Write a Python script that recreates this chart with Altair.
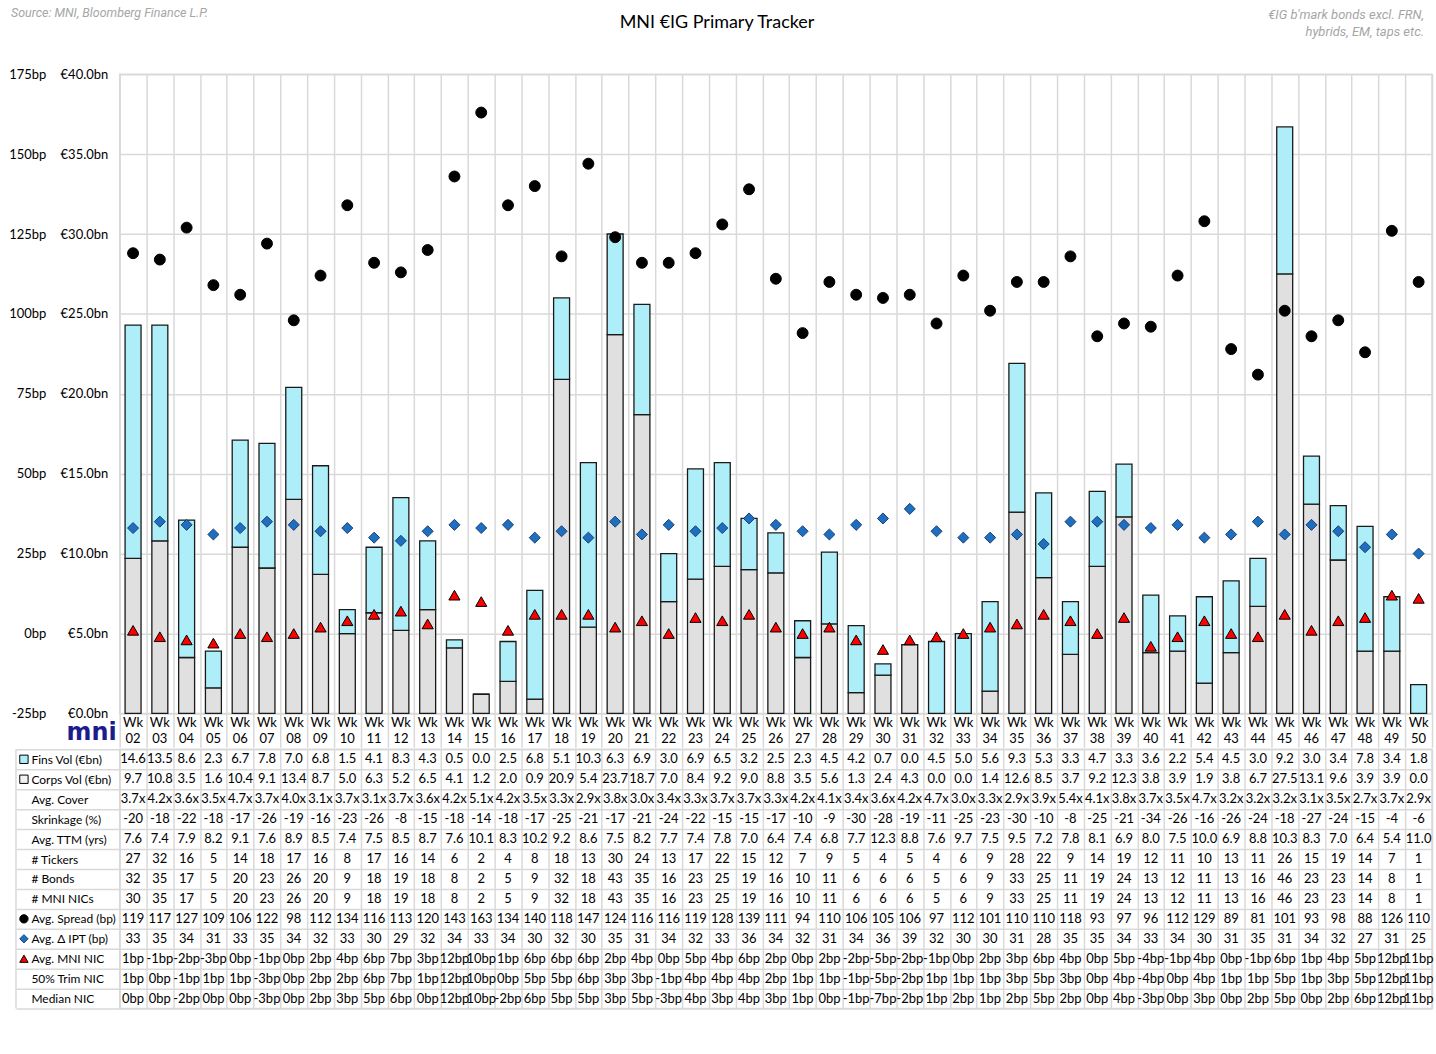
import altair as alt
import pandas as pd

FONT = "Lato"
GRID = "#D9D9D9"
CYAN = "#AEEEF8"
LIGHT_GREY = "#E0E0E0"

weeks = ["02", "03", "04", "05", "06", "07", "08", "09", "10", "11", "12", "13", "14",
         "15", "16", "17", "18", "19", "20", "21", "22", "23", "24", "25", "26", "27",
         "28", "29", "30", "31", "32", "33", "34", "35", "36", "37", "38", "39", "40",
         "41", "42", "43", "44", "45", "46", "47", "48", "49", "50"]

fins_vol = [14.6, 13.5, 8.6, 2.3, 6.7, 7.8, 7.0, 6.8, 1.5, 4.1, 8.3, 4.3, 0.5, 0.0, 2.5,
            6.8, 5.1, 10.3, 6.3, 6.9, 3.0, 6.9, 6.5, 3.2, 2.5, 2.3, 4.5, 4.2, 0.7, 0.0,
            4.5, 5.0, 5.6, 9.3, 5.3, 3.3, 4.7, 3.3, 3.6, 2.2, 5.4, 4.5, 3.0, 9.2, 3.0,
            3.4, 7.8, 3.4, 1.8]
corps_vol = [9.7, 10.8, 3.5, 1.6, 10.4, 9.1, 13.4, 8.7, 5.0, 6.3, 5.2, 6.5, 4.1, 1.2, 2.0,
             0.9, 20.9, 5.4, 23.7, 18.7, 7.0, 8.4, 9.2, 9.0, 8.8, 3.5, 5.6, 1.3, 2.4, 4.3,
             0.0, 0.0, 1.4, 12.6, 8.5, 3.7, 9.2, 12.3, 3.8, 3.9, 1.9, 3.8, 6.7, 27.5, 13.1,
             9.6, 3.9, 3.9, 0.0]
avg_cover = [3.7, 4.2, 3.6, 3.5, 4.7, 3.7, 4.0, 3.1, 3.7, 3.1, 3.7, 3.6, 4.2, 5.1, 4.2,
             3.5, 3.3, 2.9, 3.8, 3.0, 3.4, 3.3, 3.7, 3.7, 3.3, 4.2, 4.1, 3.4, 3.6, 4.2,
             4.7, 3.0, 3.3, 2.9, 3.9, 5.4, 4.1, 3.8, 3.7, 3.5, 4.7, 3.2, 3.2, 3.2, 3.1,
             3.5, 2.7, 3.7, 2.9]
shrinkage = [-20, -18, -22, -18, -17, -26, -19, -16, -23, -26, -8, -15, -18, -14, -18,
             -17, -25, -21, -17, -21, -24, -22, -15, -15, -17, -10, -9, -30, -28, -19,
             -11, -25, -23, -30, -10, -8, -25, -21, -34, -26, -16, -26, -24, -18, -27,
             -24, -15, -4, -6]
avg_ttm = [7.6, 7.4, 7.9, 8.2, 9.1, 7.6, 8.9, 8.5, 7.4, 7.5, 8.5, 8.7, 7.6, 10.1, 8.3,
           10.2, 9.2, 8.6, 7.5, 8.2, 7.7, 7.4, 7.8, 7.0, 6.4, 7.4, 6.8, 7.7, 12.3, 8.8,
           7.6, 9.7, 7.5, 9.5, 7.2, 7.8, 8.1, 6.9, 8.0, 7.5, 10.0, 6.9, 8.8, 10.3, 8.3,
           7.0, 6.4, 5.4, 11.0]
n_tickers = [27, 32, 16, 5, 14, 18, 17, 16, 8, 17, 16, 14, 6, 2, 4, 8, 18, 13, 30, 24,
             13, 17, 22, 15, 12, 7, 9, 5, 4, 5, 4, 6, 9, 28, 22, 9, 14, 19, 12, 11, 10,
             13, 11, 26, 15, 19, 14, 7, 1]
n_bonds = [32, 35, 17, 5, 20, 23, 26, 20, 9, 18, 19, 18, 8, 2, 5, 9, 32, 18, 43, 35,
           16, 23, 25, 19, 16, 10, 11, 6, 6, 6, 5, 6, 9, 33, 25, 11, 19, 24, 13, 12, 11,
           13, 16, 46, 23, 23, 14, 8, 1]
n_nics = [30, 35, 17, 5, 20, 23, 26, 20, 9, 18, 19, 18, 8, 2, 5, 9, 32, 18, 43, 35,
          16, 23, 25, 19, 16, 10, 11, 6, 6, 6, 5, 6, 9, 33, 25, 11, 19, 24, 13, 12, 11,
          13, 16, 46, 23, 23, 14, 8, 1]
avg_spread = [119, 117, 127, 109, 106, 122, 98, 112, 134, 116, 113, 120, 143, 163, 134,
              140, 118, 147, 124, 116, 116, 119, 128, 139, 111, 94, 110, 106, 105, 106,
              97, 112, 101, 110, 110, 118, 93, 97, 96, 112, 129, 89, 81, 101, 93, 98, 88,
              126, 110]
avg_ipt = [33, 35, 34, 31, 33, 35, 34, 32, 33, 30, 29, 32, 34, 33, 34, 30, 32, 30, 35, 31,
           34, 32, 33, 36, 34, 32, 31, 34, 36, 39, 32, 30, 30, 31, 28, 35, 35, 34, 33, 34,
           30, 31, 35, 31, 34, 32, 27, 31, 25]
avg_nic = [1, -1, -2, -3, 0, -1, 0, 2, 4, 6, 7, 3, 12, 10, 1, 6, 6, 6, 2, 4, 0, 5, 4, 6,
           2, 0, 2, -2, -5, -2, -1, 0, 2, 3, 6, 4, 0, 5, -4, -1, 4, 0, -1, 6, 1, 4, 5, 12, 11]
trim_nic = [1, 0, -1, 1, 1, -3, 0, 2, 2, 6, 7, 1, 12, 10, 0, 5, 5, 6, 3, 3, -1, 4, 4, 4,
            2, 1, 1, -1, -5, -2, 1, 1, 1, 3, 5, 3, 0, 4, -4, 0, 4, 1, 1, 5, 1, 3, 5, 12, 11]
median_nic = [0, 0, -2, 0, 0, -3, 0, 2, 3, 5, 6, 0, 12, 10, -2, 6, 5, 5, 3, 5, -3, 4, 3, 4,
              3, 1, 0, -1, -7, -2, 1, 2, 1, 2, 5, 2, 0, 4, -3, 0, 3, 0, 2, 5, 0, 2, 6, 12, 11]

# ---- stacked issuance volumes (corporates at the bottom, financials on top)
vol_df = pd.concat([
    pd.DataFrame({"week": weeks, "vol": corps_vol, "series": "Corps", "layer": 0}),
    pd.DataFrame({"week": weeks, "vol": fins_vol, "series": "Fins", "layer": 1}),
])

# ---- spread / IPT / NIC markers on the bp axis
pts_df = pd.concat([
    pd.DataFrame({"week": weeks, "val": avg_spread, "measure": "spread"}),
    pd.DataFrame({"week": weeks, "val": avg_ipt, "measure": "ipt"}),
    pd.DataFrame({"week": weeks, "val": avg_nic, "measure": "nic"}),
])

header_df = pd.DataFrame({"week": weeks, "hdr": ["Wk\n" + w for w in weeks]})

# ---- table rows
row_labels = ["Fins Vol (€bn)", "Corps Vol (€bn)", "Avg. Cover", "Skrinkage (%)",
              "Avg. TTM (yrs)", "# Tickers", "# Bonds", "# MNI NICs", "Avg. Spread (bp)",
              "Avg. Δ IPT (bp)", "Avg. MNI NIC", "50% Trim NIC", "Median NIC"]
row_texts = [
    [f"{v:.1f}" for v in fins_vol],
    [f"{v:.1f}" for v in corps_vol],
    [f"{v:.1f}x" for v in avg_cover],
    [str(v) for v in shrinkage],
    [f"{v:.1f}" for v in avg_ttm],
    [str(v) for v in n_tickers],
    [str(v) for v in n_bonds],
    [str(v) for v in n_nics],
    [str(v) for v in avg_spread],
    [str(v) for v in avg_ipt],
    [f"{v}bp" for v in avg_nic],
    [f"{v}bp" for v in trim_nic],
    [f"{v}bp" for v in median_nic],
]
table_df = pd.concat([
    pd.DataFrame({"week": weeks, "row": lab, "txt": txt})
    for lab, txt in zip(row_labels, row_texts)
])

icon_df = pd.DataFrame({
    "row": ["Fins Vol (€bn)", "Corps Vol (€bn)", "Avg. Spread (bp)", "Avg. Δ IPT (bp)", "Avg. MNI NIC"],
    "shape": ["square", "square", "circle", "diamond", "triangle-up"],
    "fill": [CYAN, "#F2F2F2", "#000000", "#1F6FC0", "#FF0000"],
    "stroke": ["#000000", "#000000", "#000000", "#1B3F73", "#000000"],
})

PLOT_W, PLOT_H = 1316, 641
TABLE_H = 260

x_plot = alt.X(
    "week:N", sort=weeks, title=None,
    scale=alt.Scale(type="band", paddingInner=0, paddingOuter=0),
    axis=alt.Axis(labels=False, tickBand="extent", tickSize=34, tickColor=GRID,
                  tickWidth=1.5, grid=True, gridColor=GRID, gridWidth=1.5, domain=False,
                  minExtent=34, maxExtent=34),
)

bars = alt.Chart(vol_df).mark_bar(size=16, stroke="#1A1A1A", strokeWidth=1.3).encode(
    x=x_plot,
    y=alt.Y("vol:Q", stack="zero", title=None,
            scale=alt.Scale(domain=[0, 40], nice=False),
            axis=alt.Axis(orient="left", values=[0, 5, 10, 15, 20, 25, 30, 35, 40],
                          labelExpr="'€' + format(datum.value, '.1f') + 'bn'",
                          grid=True, gridColor=GRID, gridWidth=1.5, ticks=False,
                          domain=False, labelPadding=12, labelFontSize=13,
                          labelFont=FONT, labelColor="black")),
    color=alt.Color("series:N", scale=alt.Scale(domain=["Corps", "Fins"],
                                                range=[LIGHT_GREY, CYAN]), legend=None),
    order=alt.Order("layer:Q"),
)

points = alt.Chart(pts_df).mark_point(filled=True, strokeWidth=1, opacity=1).encode(
    x=alt.X("week:N", sort=weeks),
    y=alt.Y("val:Q", title=None, scale=alt.Scale(domain=[-25, 175], nice=False),
            axis=alt.Axis(orient="left", offset=62,
                          values=[-25, 0, 25, 50, 75, 100, 125, 150, 175],
                          labelExpr="datum.value + 'bp'", grid=False, ticks=False,
                          domain=False, labelPadding=12, labelFontSize=13,
                          labelFont=FONT, labelColor="black")),
    shape=alt.Shape("measure:N", scale=alt.Scale(domain=["spread", "ipt", "nic"],
                                                  range=["circle", "diamond", "triangle-up"]),
                    legend=None),
    fill=alt.Fill("measure:N", scale=alt.Scale(domain=["spread", "ipt", "nic"],
                                                range=["#000000", "#1F6FC0", "#FF0000"]),
                  legend=None),
    stroke=alt.Stroke("measure:N", scale=alt.Scale(domain=["spread", "ipt", "nic"],
                                                    range=["#000000", "#1B3F73", "#000000"]),
                      legend=None),
    size=alt.Size("measure:N", scale=alt.Scale(domain=["spread", "ipt", "nic"],
                                                range=[120, 125, 170]),
                  legend=None),
)

# week headers under each column ("Wk" over the week number)
headers = alt.Chart(header_df).mark_text(
    font=FONT, fontSize=13, color="black", baseline="top", lineBreak="\n", lineHeight=16
).encode(x=alt.X("week:N", sort=weeks), y=alt.value(PLOT_H + 4), text="hdr:N")

one = pd.DataFrame({"t": [""]})
title_txt = alt.Chart(pd.DataFrame({"t": ["MNI €IG Primary Tracker"]})).mark_text(
    font=FONT, fontSize=18, color="black", align="center", baseline="middle"
).encode(text="t:N", x=alt.value(599), y=alt.value(-51))

source_txt = alt.Chart(pd.DataFrame({"t": ["Source: MNI, Bloomberg Finance L.P."]})).mark_text(
    font="Roboto", fontStyle="italic", fontSize=12.5, color="#A6A6A6", align="left",
    baseline="middle"
).encode(text="t:N", x=alt.value(-109), y=alt.value(-61))

note_txt = alt.Chart(pd.DataFrame({"t": ["€IG b'mark bonds excl. FRN,\nhybrids, EM, taps etc."]})).mark_text(
    font="Roboto", fontStyle="italic", fontSize=13, color="#A6A6A6", align="right",
    baseline="middle", lineBreak="\n", lineHeight=17
).encode(text="t:N", x=alt.value(1308), y=alt.value(-59))

logo_txt = alt.Chart(pd.DataFrame({"t": ["mni"]})).mark_text(
    font="DejaVu Sans", fontWeight="bold", fontSize=24, color="#1C1C8E", align="right",
    baseline="alphabetic"
).encode(text="t:N", x=alt.value(-3), y=alt.value(PLOT_H + 27))

plot = alt.layer(
    bars, points, headers, title_txt, source_txt, note_txt, logo_txt
).resolve_scale(y="independent").properties(width=PLOT_W, height=PLOT_H)

# ---- statistics table beneath the chart
x_tab = alt.X("week:N", sort=weeks, title=None,
              scale=alt.Scale(type="band", paddingInner=0, paddingOuter=0),
              axis=alt.Axis(labels=False, ticks=False, domain=False, grid=True,
                            gridColor=GRID, gridWidth=1.5, tickBand="extent"))
y_tab = alt.Y("row:N", sort=row_labels, title=None,
              scale=alt.Scale(type="band", paddingInner=0, paddingOuter=0),
              axis=alt.Axis(orient="left", grid=True, gridColor=GRID, gridWidth=1.5,
                            tickBand="extent", tickSize=104, tickColor=GRID, tickWidth=1.5,
                            domain=False, labelAlign="left", labelPadding=-15,
                            labelFontSize=12, labelFont=FONT, labelColor="black"))

cells = alt.Chart(table_df).mark_text(font=FONT, fontSize=13, color="black").encode(
    x=x_tab, y=y_tab, text="txt:N")

icons = alt.Chart(icon_df).mark_point(filled=True, size=70, strokeWidth=1, opacity=1).encode(
    x=alt.value(-96),
    y=alt.Y("row:N", sort=row_labels),
    shape=alt.Shape("shape:N", scale=None),
    fill=alt.Fill("fill:N", scale=None),
    stroke=alt.Stroke("stroke:N", scale=None),
)

left_border = alt.Chart(one).mark_rule(color=GRID, strokeWidth=1.5).encode(
    x=alt.value(-104), y=alt.value(0), y2=alt.value(TABLE_H))

table = alt.layer(cells, icons, left_border).properties(width=PLOT_W, height=TABLE_H)

chart = alt.vconcat(plot, table, spacing=-7).configure_view(
    stroke=GRID, strokeWidth=1.5
).properties(padding={"left": 8, "top": 5, "right": 1, "bottom": 5})

chart.save("out.html", embed_options={"renderer": "svg", "actions": False})
